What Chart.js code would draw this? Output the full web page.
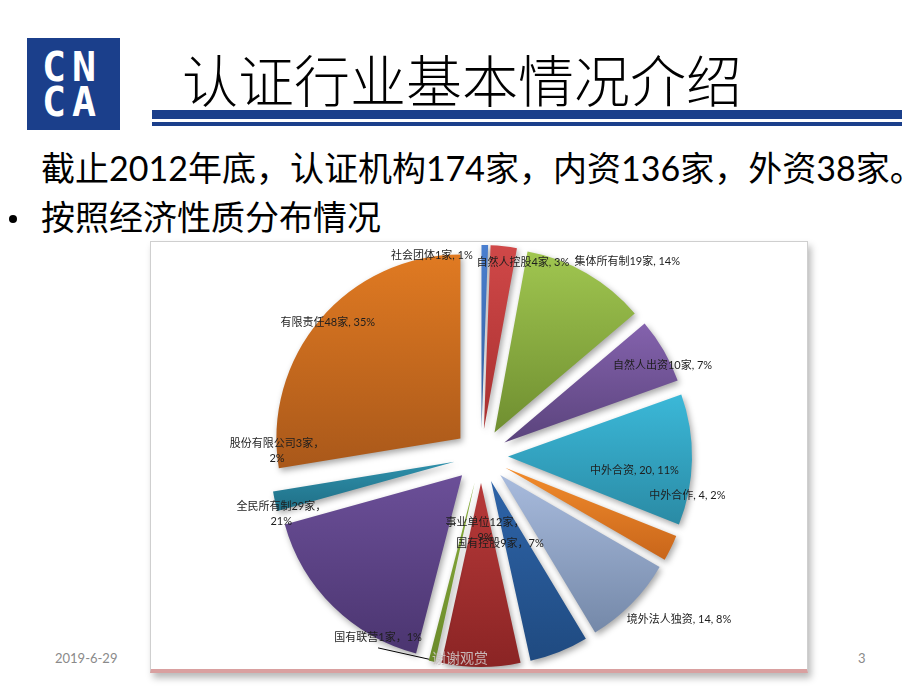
<!DOCTYPE html>
<html>
<head>
<meta charset="utf-8">
<script src="https://cdn.jsdelivr.net/npm/chart.js@4.4.0/dist/chart.umd.min.js"></script>
<style>
  body { margin: 0; width: 920px; height: 690px; background: #fff; position: relative; overflow: hidden;
         font-family: "Noto Sans CJK SC", sans-serif; }
  .abs { position: absolute; }
  #logo { left: 27px; top: 38px; width: 93px; height: 92px; background: #1b3f8b; }
  #logo span { position: absolute; left: 15px; color: #fff; font: bold 40px "DejaVu Sans Mono", monospace;
               letter-spacing: 6px; line-height: 40px; white-space: nowrap; }
  #title { left: 182px; top: 46px; font-size: 56px; font-weight: 300; line-height: 64px; color: #000; white-space: nowrap; }
  #bar1 { left: 152px; top: 110px; width: 750px; height: 9px; background: #1b3f8b; }
  #bar2 { left: 152px; top: 122px; width: 750px; height: 4px; background: #1b3f8b; }
  #line1 { left: 41px; top: 148px; font-size: 34px; line-height: 40px; white-space: nowrap; font-family: Lato, "Noto Sans CJK SC"; }
  #bullet { left: 9px; top: 215px; width: 8px; height: 8px; border-radius: 50%; background: #000; }
  #line2 { left: 41px; top: 196px; font-size: 34px; line-height: 40px; white-space: nowrap; }
  #box { left: 150px; top: 241px; width: 656px; height: 427px; background: #fff; border: 1px solid #cfcfcf;
         border-bottom: 4px solid #d9a0a0; box-shadow: 3px 5px 7px rgba(0,0,0,0.28); overflow: hidden; }
  #date { left: 55px; top: 650px; font: 13px Lato, sans-serif; color: #8a8a8a; }
  #page { left: 858px; top: 650px; font: 13px Lato, sans-serif; color: #8a8a8a; }
  #thanks { left: 432px; top: 647px; font-size: 14px; color: rgba(205,195,195,0.92); }
</style>
</head>
<body>
<div id="logo" class="abs"><span style="top:9px">CN</span><span style="top:44px">CA</span></div>
<div id="title" class="abs">认证行业基本情况介绍</div>
<div id="bar1" class="abs"></div>
<div id="bar2" class="abs"></div>
<div id="line1" class="abs">截止2012年底，认证机构174家，内资136家，外资38家。</div>
<div id="bullet" class="abs"></div>
<div id="line2" class="abs">按照经济性质分布情况</div>
<div id="box" class="abs"><canvas id="pie" width="656" height="427"></canvas></div>
<div id="date" class="abs">2019-6-29</div>
<div id="page" class="abs">3</div>
<div id="thanks" class="abs">谢谢观赏</div>

<script>
// 经济性质分布（家数）
const categories = ['社会团体', '自然人控股', '集体所有制', '自然人出资', '中外合资', '中外合作', '境外法人独资',
                    '国有控股', '事业单位', '国有联营', '全民所有制', '股份有限公司', '有限责任'];
const counts = [1, 4, 19, 10, 20, 4, 14, 9, 12, 1, 29, 3, 48];
const percents = ['1%', '3%', '14%', '7%', '11%', '2%', '8%', '7%', '9%', '1%', '21%', '2%', '35%'];
const labelLines = [
  ['社会团体1家, 1%'],
  ['自然人控股4家, 3%'],
  ['集体所有制19家, 14%'],
  ['自然人出资10家, 7%'],
  ['中外合资, 20, 11%'],
  ['中外合作, 4, 2%'],
  ['境外法人独资, 14, 8%'],
  ['国有控股9家，7%'],
  ['事业单位12家，', '9%'],
  ['国有联营1家，1%'],
  ['全民所有制29家，', '21%'],
  ['股份有限公司3家，', '2%'],
  ['有限责任48家, 35%']
];

// 颜色（上 -> 下渐变）
const topColors = ['#4a7fd0', '#d04848', '#a0c650', '#8462ad', '#3bb8d8', '#f28c2c', '#a8bbdd', '#2e64a8', '#b83a3a', '#8aae3c', '#6b4f98', '#2e90ab', '#e07a22'];
const bottomColors = ['#355f9e', '#a83030', '#6f8e30', '#5a437c', '#2a8aa4', '#c8651a', '#7488a8', '#1f4a80', '#8a2424', '#6a8a2a', '#4b3570', '#1f6e85', '#a9581a'];

// 标签位置（角度: 顺时针自正上方, 半径 px）
const labelAngle = [-13.8, 12.2, 37.0, 63.4, 95.2, 100.7, 129.6, 167.7, 176.9, 209.5, 253.8, 271.4, 311.0];
const labelRadius = [206, 198, 243, 203, 154, 210, 257, 89, 74, 209, 208, 204, 203];

const RADIUS = 184;
const EXPLODE = 27;
const total = counts.reduce((a, b) => a + b, 0);

function sliceFill(c) {
  const chart = c.chart, area = chart.chartArea;
  const i = c.dataIndex;
  if (!area) return topColors[i];
  let start = 0;
  for (let k = 0; k < i; k++) start += counts[k];
  const a0 = -Math.PI / 2 + start / total * 2 * Math.PI;
  const a1 = a0 + counts[i] / total * 2 * Math.PI;
  const mid = (a0 + a1) / 2;
  const cy = (area.top + area.bottom) / 2 + Math.sin(mid) * EXPLODE;
  let minY = cy, maxY = cy;
  for (let s = 0; s <= 24; s++) {
    const y = cy + Math.sin(a0 + (a1 - a0) * s / 24) * RADIUS;
    minY = Math.min(minY, y); maxY = Math.max(maxY, y);
  }
  const g = chart.ctx.createLinearGradient(0, minY, 0, maxY + 1);
  g.addColorStop(0, topColors[i]);
  g.addColorStop(1, bottomColors[i]);
  return g;
}

const explodePie = {
  id: 'explodePie',
  afterDatasetsUpdate(chart) {
    chart.getDatasetMeta(0).data.forEach(arc => {
      const mid = (arc.startAngle + arc.endAngle) / 2;
      arc.x += Math.cos(mid) * EXPLODE;
      arc.y += Math.sin(mid) * EXPLODE;
    });
  },
  beforeDatasetsDraw(chart) {
    const ctx = chart.ctx;
    ctx.save();
    ctx.shadowColor = 'rgba(0,0,0,0.35)';
    ctx.shadowBlur = 6;
    ctx.shadowOffsetX = 2;
    ctx.shadowOffsetY = 3;
  },
  afterDatasetsDraw(chart) {
    const ctx = chart.ctx;
    ctx.restore();
    const area = chart.chartArea;
    const cx = (area.left + area.right) / 2, cy = (area.top + area.bottom) / 2;
    ctx.save();
    ctx.font = '11px Lato, "Noto Sans CJK SC"';
    ctx.fillStyle = '#1e1e1e';
    ctx.textAlign = 'center';
    ctx.textBaseline = 'middle';
    labelLines.forEach((lines, i) => {
      const t = labelAngle[i] * Math.PI / 180;
      const x = cx + Math.sin(t) * labelRadius[i];
      const y = cy - Math.cos(t) * labelRadius[i];
      const h = 15;
      lines.forEach((ln, j) => ctx.fillText(ln, x, y + (j - (lines.length - 1) / 2) * h));
      if (categories[i] === '国有联营') {
        const arc = chart.getDatasetMeta(0).data[i];
        const mid = (arc.startAngle + arc.endAngle) / 2;
        ctx.strokeStyle = '#000';
        ctx.lineWidth = 1;
        ctx.beginPath();
        ctx.moveTo(x, y + 10);
        ctx.lineTo(arc.x + Math.cos(mid) * RADIUS - 3, arc.y + Math.sin(mid) * RADIUS - 2);
        ctx.stroke();
      }
    });
    ctx.restore();
  }
};

new Chart(document.getElementById('pie'), {
  type: 'pie',
  data: {
    labels: categories,
    datasets: [{
      data: counts,
      backgroundColor: sliceFill,
      borderWidth: 0
    }]
  },
  options: {
    responsive: false,
    animation: false,
    radius: RADIUS,
    layout: { padding: { left: 4, top: 1 } },
    plugins: { legend: { display: false }, tooltip: { enabled: false } }
  },
  plugins: [explodePie]
});
</script>
</body>
</html>
